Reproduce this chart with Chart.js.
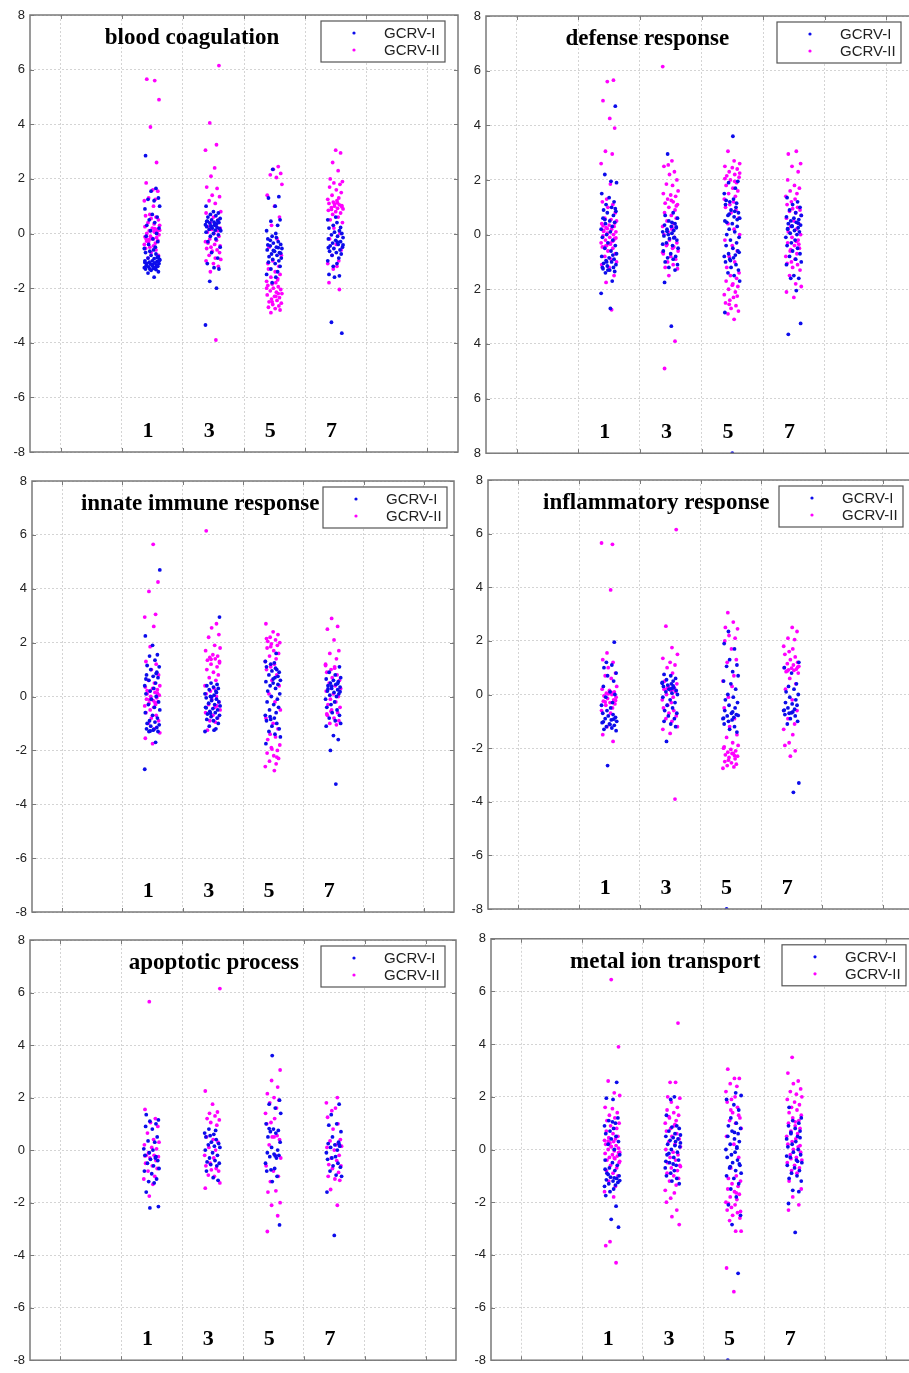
<!DOCTYPE html>
<html>
<head>
    <title>GO term expression</title>
    <meta charset="utf-8">
    <script src="https://cdn.jsdelivr.net/npm/chart.js"></script>
    <style>
        html, body { margin: 0; padding: 0; background: #fff; overflow: hidden; width: 909px; height: 1373px; }
        canvas { position: absolute; }
    </style>
</head>
<body>
    <canvas id="p1"></canvas>
    <canvas id="p2"></canvas>
    <canvas id="p3"></canvas>
    <canvas id="p4"></canvas>
    <canvas id="p5"></canvas>
    <canvas id="p6"></canvas>
    <script>
        // time points (drawn as big labels inside each panel) and where the strips sit
        const CATEGORIES = ['1', '3', '5', '7'];
        const CLUSTER_X = [2, 3, 4, 5];
        const GRID_X = [0.5, 1.5, 2.5, 3.5, 4.5, 5.5, 6.5];
        const SERIES = ['GCRV-I', 'GCRV-II'];
        // horizontal spread of the strips, cycled over the points
        const JITTER = [-0.11, 0.06, -0.02, 0.10, -0.07, 0.03, 0.12, -0.12, 0.00, 0.08, -0.05, 0.04,
                        -0.09, 0.11, -0.03, 0.07, -0.10, 0.01, 0.09, -0.06, 0.05, -0.13, 0.02, -0.04];

        // blood coagulation
        const BLOOD_I = [
            [2.85, 1.65, 1.55, 1.3, 1.25, 1.2, 1.0, 0.9, 0.7, 0.6, 0.5, 0.4, 0.3, 0.2, 0.1, 0.0, -0.1, -0.2, -0.3, -0.4, -0.5, -0.55, -0.6, -0.65, -0.7, -0.75, -0.8, -0.85, -0.9, -0.92, -0.95, -1.0, -1.0, -1.02, -1.05, -1.08, -1.1, -1.1, -1.12, -1.15, -1.18, -1.2, -1.2, -1.22, -1.25, -1.25, -1.28, -1.3, -1.3, -1.32, -1.35, -1.4, -1.45, -1.6, -0.98, -1.06, -1.14, -0.88],
            [1.0, 0.8, 0.75, 0.7, 0.65, 0.6, 0.55, 0.5, 0.48, 0.45, 0.42, 0.4, 0.38, 0.35, 0.32, 0.3, 0.28, 0.25, 0.22, 0.2, 0.18, 0.15, 0.12, 0.1, 0.05, 0.0, -0.05, -0.1, -0.2, -0.3, -0.5, -0.7, -0.9, -1.1, -1.25, -1.3, -1.75, -2.0, -3.35, 0.36, 0.26, 0.44],
            [2.35, 1.35, 1.3, 1.0, 0.5, 0.45, 0.3, 0.1, 0.0, -0.1, -0.2, -0.3, -0.35, -0.4, -0.45, -0.5, -0.55, -0.6, -0.65, -0.7, -0.75, -0.8, -0.85, -0.9, -0.95, -1.0, -1.05, -1.1, -1.2, -1.3, -1.4, -1.5, -1.6, -1.8, -0.42, -0.52, -0.62, -0.72, -0.25, -0.15],
            [0.5, 0.4, 0.3, 0.2, 0.1, 0.05, 0.0, -0.05, -0.1, -0.15, -0.2, -0.25, -0.3, -0.35, -0.4, -0.45, -0.5, -0.55, -0.6, -0.65, -0.7, -0.75, -0.8, -0.9, -1.0, -1.1, -1.2, -1.5, -1.55, -1.6, -3.65, -3.25, -0.32, -0.42, -0.52, 0.6, 0.22]
        ];
        const BLOOD_II = [
            [5.6, 5.65, 4.9, 3.9, 2.6, 1.85, 1.6, 1.55, 1.3, 1.25, 1.2, 1.0, 0.7, 0.65, 0.6, 0.55, 0.5, 0.4, 0.35, 0.3, 0.25, 0.2, 0.15, 0.1, 0.05, 0.0, -0.05, -0.1, -0.15, -0.2, -0.2, -0.25, -0.3, -0.35, -0.4, -0.45, -0.5, -0.55, -0.6, -0.7, -0.8, -0.9, 0.08, 0.12, -0.12, -0.18, 0.02, -0.22, 0.18, -0.28],
            [6.15, 4.05, 3.25, 3.05, 2.4, 2.1, 1.7, 1.65, 1.4, 1.35, 1.2, 1.1, 0.8, 0.75, 0.6, 0.5, 0.4, 0.3, 0.25, 0.2, 0.15, 0.1, 0.05, 0.0, -0.1, -0.2, -0.25, -0.3, -0.4, -0.5, -0.55, -0.6, -0.65, -0.7, -0.8, -0.9, -0.95, -1.0, -1.1, -1.2, -1.4, -3.9, -0.35, -0.45, 0.18],
            [2.45, 2.35, 2.2, 2.15, 2.05, 1.8, 1.4, 1.0, 0.6, 0.3, -0.2, -0.5, -0.8, -1.0, -1.2, -1.3, -1.4, -1.5, -1.6, -1.7, -1.75, -1.8, -1.85, -1.9, -1.95, -2.0, -2.05, -2.1, -2.15, -2.2, -2.25, -2.3, -2.35, -2.4, -2.45, -2.5, -2.55, -2.6, -2.65, -2.7, -2.75, -2.8, -2.9, -1.65, -2.0, -2.3, -2.5, -1.1, -2.2],
            [3.05, 2.95, 2.6, 2.3, 2.0, 1.9, 1.85, 1.8, 1.7, 1.6, 1.5, 1.4, 1.3, 1.25, 1.2, 1.15, 1.1, 1.05, 1.0, 0.98, 0.95, 0.92, 0.9, 0.85, 0.8, 0.75, 0.7, 0.6, 0.5, 0.4, 0.2, 0.0, -0.2, -0.4, -0.6, -0.8, -1.0, -1.1, -1.2, -1.3, -1.8, -2.05, 1.08, 1.02, 0.88, 1.12]
        ];

        // defense response
        const DEFENSE_I = [
            [4.7, 2.2, 1.95, 1.9, 1.5, 1.35, 1.2, 1.1, 1.0, 0.9, 0.85, 0.8, 0.7, 0.6, 0.5, 0.45, 0.4, 0.3, 0.2, 0.1, 0.0, -0.1, -0.2, -0.3, -0.4, -0.5, -0.6, -0.7, -0.8, -0.85, -0.9, -0.95, -1.0, -1.05, -1.1, -1.15, -1.2, -1.25, -1.3, -1.35, -1.4, -1.7, -2.15, -2.7, -1.0, -1.2, -0.75, -1.3, 0.95, 0.55],
            [2.95, 0.8, 0.7, 0.6, 0.5, 0.4, 0.35, 0.3, 0.25, 0.2, 0.15, 0.1, 0.05, 0.0, -0.05, -0.1, -0.15, -0.2, -0.3, -0.4, -0.5, -0.6, -0.7, -0.8, -0.85, -0.9, -1.0, -1.1, -1.2, -1.3, -1.75, -3.35, 0.28, 0.12, -0.12, -0.35, 0.45],
            [3.6, 1.95, 1.9, 1.7, 1.5, 1.3, 1.2, 1.1, 1.0, 0.9, 0.8, 0.7, 0.65, 0.6, 0.5, 0.4, 0.3, 0.2, 0.1, 0.0, -0.1, -0.2, -0.3, -0.4, -0.5, -0.6, -0.7, -0.75, -0.8, -0.85, -0.9, -1.0, -1.1, -1.2, -1.3, -1.4, -1.5, -1.7, -2.85, -8.0, 0.55, 0.75, 0.85, 0.45, -0.65, -0.95, 1.15, 1.25],
            [1.35, 1.2, 1.1, 1.0, 0.9, 0.8, 0.7, 0.65, 0.6, 0.55, 0.5, 0.45, 0.4, 0.35, 0.3, 0.25, 0.2, 0.15, 0.1, 0.05, 0.0, -0.1, -0.2, -0.3, -0.4, -0.5, -0.6, -0.7, -0.8, -0.9, -1.0, -1.1, -1.5, -1.6, -1.6, -2.05, -3.65, -3.25, 0.32, 0.42, 0.22]
        ];
        const DEFENSE_II = [
            [5.6, 5.65, 4.9, 4.25, 3.9, 3.05, 2.95, 2.6, 1.85, 1.3, 1.2, 1.1, 1.0, 0.8, 0.6, 0.55, 0.5, 0.4, 0.35, 0.3, 0.25, 0.2, 0.15, 0.1, 0.05, 0.0, -0.05, -0.1, -0.15, -0.2, -0.25, -0.3, -0.35, -0.4, -0.45, -0.5, -0.6, -0.7, -0.8, -0.9, -1.0, -1.1, -1.2, -1.5, -1.75, -2.75, 0.12, -0.12, 0.22, -0.22, 0.32, -0.32, 0.42, -0.42],
            [6.15, 2.7, 2.55, 2.5, 2.3, 2.2, 2.0, 1.85, 1.8, 1.6, 1.5, 1.45, 1.4, 1.3, 1.2, 1.15, 1.1, 1.0, 0.9, 0.8, 0.7, 0.6, 0.5, 0.4, 0.3, 0.2, 0.1, 0.0, -0.1, -0.2, -0.3, -0.4, -0.5, -0.6, -0.7, -0.8, -0.9, -1.0, -1.1, -1.2, -1.25, -1.5, -3.9, -4.9, 1.25, 1.05, -0.35, -0.45, -0.65, 0.25],
            [3.05, 2.7, 2.6, 2.5, 2.45, 2.4, 2.3, 2.2, 2.15, 2.1, 2.0, 1.9, 1.8, 1.7, 1.6, 1.5, 1.4, 1.3, 1.2, 1.1, 1.0, 0.9, 0.8, 0.6, 0.4, 0.2, 0.0, -0.2, -0.4, -0.6, -0.8, -1.0, -1.2, -1.4, -1.5, -1.6, -1.7, -1.8, -1.9, -2.0, -2.1, -2.2, -2.3, -2.4, -2.5, -2.6, -2.7, -2.8, -2.9, -3.1, 2.25, 2.05, -1.85, -2.25, -2.55, 1.95],
            [3.05, 2.95, 2.6, 2.5, 2.3, 2.0, 1.8, 1.7, 1.6, 1.5, 1.4, 1.3, 1.2, 1.1, 1.0, 0.95, 0.9, 0.85, 0.8, 0.7, 0.6, 0.5, 0.4, 0.3, 0.2, 0.1, 0.0, -0.1, -0.2, -0.3, -0.4, -0.5, -0.6, -0.7, -0.8, -0.9, -1.0, -1.05, -1.1, -1.2, -1.3, -1.5, -1.8, -1.9, -2.1, -2.3, -0.35, -0.55, -0.25]
        ];

        // innate immune response
        const INNATE_I = [
            [4.7, 2.25, 1.9, 1.55, 1.5, 1.35, 1.15, 1.1, 1.0, 0.9, 0.8, 0.75, 0.7, 0.6, 0.5, 0.4, 0.3, 0.2, 0.1, 0.0, -0.1, -0.2, -0.3, -0.4, -0.5, -0.6, -0.7, -0.8, -0.9, -0.95, -1.0, -1.05, -1.1, -1.15, -1.2, -1.25, -1.3, -1.3, -1.7, -2.7, -1.22, -1.28, 0.65, 0.85],
            [2.95, 0.5, 0.45, 0.4, 0.35, 0.3, 0.25, 0.2, 0.1, 0.05, 0.0, -0.05, -0.1, -0.15, -0.2, -0.25, -0.3, -0.35, -0.4, -0.45, -0.5, -0.55, -0.6, -0.65, -0.7, -0.75, -0.8, -0.85, -0.9, -1.0, -1.1, -1.2, -1.3, -1.25, -0.62, -0.42, 0.15, -0.02],
            [1.6, 1.3, 1.25, 1.2, 1.1, 1.0, 0.95, 0.9, 0.8, 0.7, 0.6, 0.55, 0.5, 0.45, 0.4, 0.3, 0.2, 0.1, 0.0, -0.1, -0.2, -0.3, -0.4, -0.5, -0.6, -0.7, -0.8, -0.85, -0.9, -1.0, -1.1, -1.2, -1.3, -1.4, -1.5, -1.75, 0.65, 0.75, -0.75, 1.05],
            [1.1, 0.9, 0.8, 0.7, 0.65, 0.6, 0.55, 0.5, 0.45, 0.4, 0.35, 0.3, 0.25, 0.2, 0.15, 0.1, 0.05, 0.0, -0.1, -0.2, -0.3, -0.4, -0.5, -0.6, -0.7, -0.8, -0.9, -1.0, -1.1, -1.45, -1.6, -2.0, -3.25, 0.28, 0.18, 0.38, 0.48]
        ];
        const INNATE_II = [
            [5.65, 4.25, 3.9, 3.05, 2.95, 2.6, 1.85, 1.3, 1.2, 1.0, 0.8, 0.6, 0.5, 0.4, 0.35, 0.3, 0.25, 0.2, 0.15, 0.1, 0.05, 0.0, -0.05, -0.1, -0.15, -0.2, -0.25, -0.3, -0.35, -0.4, -0.5, -0.6, -0.7, -0.8, -0.9, -1.0, -1.2, -1.35, -1.55, -1.75, 0.12, -0.12, -0.22, 0.22],
            [6.15, 2.7, 2.55, 2.3, 2.2, 1.9, 1.8, 1.7, 1.55, 1.5, 1.45, 1.4, 1.35, 1.3, 1.2, 1.1, 1.0, 0.9, 0.8, 0.7, 0.6, 0.4, 0.3, 0.2, 0.1, 0.0, -0.1, -0.2, -0.3, -0.4, -0.5, -0.6, -0.7, -0.8, -0.9, -0.95, -1.25, 1.25, 1.38, -0.35],
            [2.7, 2.4, 2.3, 2.2, 2.1, 2.05, 2.0, 1.95, 1.9, 1.8, 1.7, 1.6, 1.5, 1.4, 1.3, 1.2, 1.1, 1.0, 0.8, 0.6, 0.4, 0.1, -0.2, -0.5, -0.8, -1.0, -1.2, -1.4, -1.5, -1.6, -1.8, -1.9, -2.0, -2.1, -2.2, -2.3, -2.4, -2.5, -2.6, -2.75, 1.85, 2.15, -2.25, -1.95],
            [2.9, 2.6, 2.5, 2.1, 1.7, 1.6, 1.4, 1.2, 1.1, 1.0, 0.9, 0.8, 0.7, 0.6, 0.5, 0.4, 0.3, 0.2, 0.1, 0.0, -0.1, -0.2, -0.3, -0.4, -0.5, -0.6, -0.7, -0.8, -0.9, -1.0, -1.05, 1.15, 1.05, -0.55, -0.65]
        ];

        // inflammatory response
        const INFLAM_I = [
            [1.95, 1.2, 1.1, 1.0, 0.8, 0.7, 0.5, 0.3, 0.1, 0.0, -0.1, -0.3, -0.4, -0.5, -0.6, -0.7, -0.75, -0.8, -0.85, -0.9, -0.95, -1.0, -1.05, -1.1, -1.15, -1.2, -1.25, -1.3, -1.35, -2.65, -0.92, -1.02, -1.12],
            [0.75, 0.7, 0.6, 0.55, 0.5, 0.45, 0.4, 0.35, 0.3, 0.25, 0.2, 0.15, 0.1, 0.05, 0.0, -0.1, -0.2, -0.3, -0.4, -0.5, -0.6, -0.7, -0.8, -0.9, -1.0, -1.1, -1.2, -1.75, 0.32, 0.42, 0.22],
            [2.35, 1.9, 1.7, 1.3, 1.1, 1.05, 0.85, 0.7, 0.5, 0.4, 0.2, 0.0, -0.1, -0.2, -0.3, -0.4, -0.5, -0.6, -0.7, -0.75, -0.8, -0.85, -0.9, -0.95, -1.0, -1.1, -1.2, -1.3, -1.4, -8.0, -0.65, -0.78, -0.88],
            [1.2, 1.0, 0.8, 0.4, 0.3, 0.2, 0.1, 0.0, -0.1, -0.2, -0.3, -0.35, -0.4, -0.5, -0.55, -0.6, -0.65, -0.7, -0.75, -0.8, -0.9, -1.0, -1.1, -3.65, -3.3, -0.58, -0.68]
        ];
        const INFLAM_II = [
            [5.6, 5.65, 3.9, 1.55, 1.3, 1.2, 1.0, 0.8, 0.7, 0.6, 0.3, 0.2, 0.15, 0.1, 0.05, 0.0, -0.05, -0.1, -0.15, -0.2, -0.25, -0.3, -0.35, -0.4, -0.5, -0.6, -0.7, -1.2, -1.5, -1.75, 0.02, -0.22, -0.28, 0.08],
            [6.15, 2.55, 1.75, 1.5, 1.35, 1.2, 1.1, 1.0, 0.8, 0.5, 0.4, 0.3, 0.25, 0.2, 0.15, 0.1, 0.0, -0.1, -0.2, -0.3, -0.4, -0.5, -0.6, -0.7, -0.8, -0.9, -1.0, -1.2, -1.3, -1.45, -3.9, 0.22, 0.18],
            [3.05, 2.7, 2.5, 2.45, 2.2, 2.1, 2.0, 1.7, 1.3, 1.2, 0.7, 0.5, 0.3, -0.1, -0.5, -0.9, -1.2, -1.5, -1.6, -1.8, -1.9, -2.0, -2.05, -2.1, -2.15, -2.2, -2.25, -2.3, -2.35, -2.4, -2.5, -2.55, -2.6, -2.65, -2.7, -2.75, -2.2, -2.45, -1.95, -2.28],
            [2.5, 2.35, 2.1, 2.05, 1.8, 1.7, 1.6, 1.5, 1.4, 1.3, 1.2, 1.15, 1.1, 1.05, 1.0, 0.98, 0.95, 0.92, 0.9, 0.85, 0.8, 0.6, 0.4, 0.2, -0.2, -0.6, -0.9, -1.1, -1.3, -1.5, -1.8, -1.9, -2.1, -2.3, 1.02, 0.88]
        ];

        // apoptotic process
        const APOP_I = [
            [1.35, 1.15, 1.1, 1.0, 0.9, 0.8, 0.5, 0.35, 0.3, 0.05, 0.0, -0.1, -0.2, -0.3, -0.35, -0.4, -0.5, -0.6, -0.7, -0.8, -0.9, -1.1, -1.2, -1.25, -1.6, -2.15, -2.2, -0.25],
            [0.8, 0.75, 0.65, 0.6, 0.55, 0.5, 0.4, 0.3, 0.25, 0.2, 0.15, 0.1, 0.0, -0.1, -0.2, -0.3, -0.4, -0.45, -0.5, -0.55, -0.6, -0.8, -1.05, -1.15],
            [3.6, 1.9, 1.75, 1.6, 1.4, 1.0, 0.8, 0.75, 0.7, 0.65, 0.5, 0.3, 0.1, 0.0, -0.1, -0.15, -0.2, -0.25, -0.3, -0.5, -0.7, -0.75, -0.8, -1.0, -1.2, -2.85, 0.82, -0.22],
            [1.75, 1.35, 1.0, 0.95, 0.7, 0.5, 0.3, 0.25, 0.2, 0.15, 0.1, 0.0, -0.1, -0.25, -0.3, -0.35, -0.5, -0.6, -0.65, -0.8, -0.95, -1.0, -1.6, -3.25, 0.22]
        ];
        const APOP_II = [
            [5.65, 1.55, 1.2, 1.05, 0.9, 0.65, 0.4, 0.3, 0.2, 0.1, 0.05, -0.1, -0.2, -0.2, -0.25, -0.3, -0.4, -0.5, -0.6, -0.7, -0.8, -1.0, -1.1, -1.3, -1.75, -0.22],
            [6.15, 2.25, 1.75, 1.45, 1.4, 1.3, 1.2, 1.15, 1.05, 0.95, 0.5, 0.4, 0.3, 0.1, 0.0, -0.2, -0.3, -0.5, -0.6, -0.7, -0.75, -0.8, -0.95, -1.0, -1.25, -1.45],
            [3.05, 2.65, 2.4, 2.15, 2.0, 1.9, 1.8, 1.6, 1.4, 1.2, 1.05, 1.0, 0.55, 0.5, 0.4, 0.2, -0.2, -0.3, -0.6, -0.8, -1.0, -1.2, -1.55, -1.6, -2.0, -2.1, -2.5, -3.1, 0.5],
            [2.0, 1.8, 1.6, 1.5, 1.25, 1.0, 0.8, 0.4, 0.35, 0.2, 0.15, 0.1, 0.0, -0.2, -0.3, -0.4, -0.55, -0.6, -0.7, -0.85, -1.0, -1.1, -1.15, -1.5, -2.1]
        ];

        // metal ion transport
        const METAL_I = [
            [2.55, 1.95, 1.9, 1.2, 1.1, 1.0, 0.9, 0.8, 0.7, 0.6, 0.5, 0.4, 0.3, 0.2, 0.0, -0.2, -0.4, -0.5, -0.6, -0.7, -0.8, -0.9, -1.0, -1.05, -1.1, -1.15, -1.2, -1.25, -1.3, -1.35, -1.4, -1.5, -1.6, -1.75, -2.15, -2.65, -2.95, -0.95, -1.08, -1.18, -0.75, 1.05],
            [2.0, 1.9, 1.3, 0.9, 0.85, 0.8, 0.7, 0.6, 0.55, 0.5, 0.45, 0.4, 0.35, 0.3, 0.2, 0.1, 0.0, -0.1, -0.2, -0.3, -0.4, -0.5, -0.6, -0.7, -0.8, -0.9, -1.0, -1.1, -1.2, -1.3, -0.15, 0.15, 0.25, -0.45, -0.55],
            [2.15, 2.05, 1.9, 1.7, 1.5, 1.2, 1.0, 0.9, 0.8, 0.7, 0.6, 0.5, 0.4, 0.3, 0.2, 0.1, 0.0, -0.1, -0.2, -0.3, -0.4, -0.5, -0.6, -0.7, -0.8, -0.9, -1.0, -1.1, -1.3, -1.5, -1.8, -2.1, -2.5, -2.85, -4.7, -8.0, 0.65, -0.55, -0.65, 0.05],
            [1.6, 1.2, 1.1, 1.0, 0.9, 0.8, 0.7, 0.6, 0.5, 0.4, 0.3, 0.2, 0.1, 0.0, -0.1, -0.2, -0.3, -0.4, -0.5, -0.6, -0.7, -0.8, -0.9, -1.0, -1.1, -1.2, -1.55, -1.6, -2.05, -3.15, 0.45, 0.65, -0.45, -0.25]
        ];
        const METAL_II = [
            [6.45, 3.9, 2.6, 2.15, 2.05, 1.6, 1.55, 1.4, 1.3, 1.2, 1.1, 1.0, 0.9, 0.8, 0.7, 0.6, 0.5, 0.45, 0.4, 0.35, 0.3, 0.25, 0.2, 0.15, 0.1, 0.05, 0.0, -0.05, -0.1, -0.15, -0.2, -0.25, -0.3, -0.35, -0.4, -0.5, -0.6, -0.7, -0.8, -0.9, -1.0, -1.2, -1.4, -1.6, -1.8, -3.5, -3.65, -4.3, 0.12, -0.12, 0.32, -0.32, -0.45],
            [4.8, 2.55, 2.55, 2.0, 1.95, 1.8, 1.6, 1.5, 1.4, 1.3, 1.2, 1.1, 1.0, 0.9, 0.8, 0.7, 0.6, 0.5, 0.4, 0.3, 0.2, 0.1, 0.0, -0.1, -0.2, -0.3, -0.4, -0.5, -0.6, -0.7, -0.8, -0.9, -1.0, -1.1, -1.2, -1.35, -1.55, -1.65, -1.85, -2.0, -2.3, -2.55, -2.85, 1.25, 0.95, -0.65],
            [3.05, 2.7, 2.7, 2.5, 2.4, 2.2, 2.0, 1.9, 1.8, 1.6, 1.4, 1.2, 1.1, 1.0, 0.8, 0.5, 0.2, -0.3, -0.7, -1.0, -1.1, -1.2, -1.3, -1.4, -1.5, -1.6, -1.7, -1.8, -1.9, -2.0, -2.1, -2.2, -2.3, -2.4, -2.5, -2.6, -2.7, -3.1, -3.1, -4.5, -5.4, 1.3, 1.5, -1.65, -2.05, -2.35],
            [3.5, 2.9, 2.6, 2.5, 2.3, 2.2, 2.1, 2.0, 1.9, 1.8, 1.7, 1.6, 1.5, 1.4, 1.3, 1.2, 1.1, 1.0, 0.9, 0.8, 0.7, 0.6, 0.5, 0.4, 0.3, 0.2, 0.1, 0.0, -0.1, -0.2, -0.3, -0.4, -0.5, -0.6, -0.7, -0.8, -0.9, -1.2, -1.5, -1.8, -2.1, -2.3, 1.05, 0.15, -0.35]
        ];

        const COLORS = ['rgb(12,12,235)', 'rgb(255,0,255)'];
        const FRAME = '#7a7a7a';

        // page placement of each panel: canvas box and chart area padding
        const panels = [
            { id: 'p1', title: 'blood coagulation', titleX: 2.65, a: BLOOD_I, b: BLOOD_II,
              left: 0, top: 0, w: 460, h: 466, axisW: 30, pad: { top: 15, right: 2, bottom: 14 } },
            { id: 'p2', title: 'defense response', titleX: 2.62, a: DEFENSE_I, b: DEFENSE_II, dropMinus: true,
              left: 455, top: 0, w: 470, h: 466, axisW: 31, pad: { top: 16, right: 8, bottom: 10 } },
            { id: 'p3', title: 'innate immune response', titleX: 2.79, a: INNATE_I, b: INNATE_II,
              left: 0, top: 466, w: 460, h: 460, axisW: 32, pad: { top: 15, right: 6, bottom: 14 } },
            { id: 'p4', title: 'inflammatory response', titleX: 2.77, a: INFLAM_I, b: INFLAM_II,
              left: 455, top: 466, w: 470, h: 460, axisW: 33, pad: { top: 14, right: 12, bottom: 17 } },
            { id: 'p5', title: 'apoptotic process', titleX: 3.02, a: APOP_I, b: APOP_II,
              left: 0, top: 926, w: 460, h: 447, axisW: 30, pad: { top: 14, right: 4, bottom: 5 } },
            { id: 'p6', title: 'metal ion transport', titleX: 2.87, a: METAL_I, b: METAL_II,
              left: 455, top: 926, w: 470, h: 447, axisW: 36, pad: { top: 11, right: 9, bottom: 6 } }
        ];

        function strips(groups, shift) {
            const pts = [];
            groups.forEach((vals, c) => {
                vals.forEach((y, i) => {
                    pts.push({ x: CLUSTER_X[c] + JITTER[(i + c * 7 + shift) % JITTER.length], y: y });
                });
            });
            return pts;
        }

        const decorPlugin = {
            id: 'decor',
            afterDraw(chart) {
                const ctx = chart.ctx;
                const area = chart.chartArea;
                const xs = chart.scales.x, ys = chart.scales.y;
                const p = chart.options.plugins.decor;
                ctx.save();

                // box with inward ticks
                ctx.strokeStyle = FRAME;
                ctx.lineWidth = 1.5;
                ctx.strokeRect(area.left, area.top, area.right - area.left, area.bottom - area.top);
                ctx.lineWidth = 1;
                ctx.beginPath();
                GRID_X.forEach(v => {
                    const px = Math.round(xs.getPixelForValue(v)) + 0.5;
                    ctx.moveTo(px, area.top); ctx.lineTo(px, area.top + 4);
                    ctx.moveTo(px, area.bottom); ctx.lineTo(px, area.bottom - 4);
                });
                ys.ticks.forEach(t => {
                    const py = Math.round(ys.getPixelForValue(t.value)) + 0.5;
                    ctx.moveTo(area.left, py); ctx.lineTo(area.left + 4, py);
                    ctx.moveTo(area.right, py); ctx.lineTo(area.right - 4, py);
                });
                ctx.stroke();

                // title and time point labels
                ctx.fillStyle = '#000';
                ctx.font = 'bold 23px "Liberation Serif", "Times New Roman", serif';
                ctx.textAlign = 'center';
                ctx.textBaseline = 'alphabetic';
                ctx.fillText(p.title, xs.getPixelForValue(p.titleX), area.top + 29);
                ctx.font = 'bold 22px "Liberation Serif", "Times New Roman", serif';
                CATEGORIES.forEach((lab, c) => {
                    ctx.fillText(lab, xs.getPixelForValue(CLUSTER_X[c] - 0.07), area.bottom - 15);
                });

                // legend box
                const bx = area.left + 291, by = area.top + 6;
                ctx.fillStyle = '#fff';
                ctx.fillRect(bx, by, 124, 41);
                ctx.strokeStyle = '#555';
                ctx.lineWidth = 1.2;
                ctx.strokeRect(bx, by, 124, 41);
                ctx.font = '15px "Liberation Sans", Arial, sans-serif';
                ctx.textAlign = 'left';
                ctx.textBaseline = 'middle';
                SERIES.forEach((name, s) => {
                    const ry = by + 12 + s * 17;
                    ctx.fillStyle = COLORS[s];
                    ctx.beginPath();
                    ctx.arc(bx + 33, ry, 1.6, 0, Math.PI * 2);
                    ctx.fill();
                    ctx.fillStyle = '#222';
                    ctx.fillText(name, bx + 63, ry + 1);
                });
                ctx.restore();
            }
        };

        panels.forEach((p, k) => {
            const cv = document.getElementById(p.id);
            cv.width = p.w; cv.height = p.h;
            cv.style.left = p.left + 'px'; cv.style.top = p.top + 'px';
            cv.style.width = p.w + 'px'; cv.style.height = p.h + 'px';

            new Chart(cv.getContext('2d'), {
                type: 'scatter',
                data: {
                    datasets: [
                        { label: SERIES[0], data: strips(p.a, k * 3), backgroundColor: COLORS[0],
                          pointRadius: 1.9, pointBorderWidth: 0, pointHoverRadius: 1.9 },
                        { label: SERIES[1], data: strips(p.b, k * 3 + 11), backgroundColor: COLORS[1],
                          pointRadius: 1.9, pointBorderWidth: 0, pointHoverRadius: 1.9 }
                    ]
                },
                options: {
                    responsive: false,
                    animation: false,
                    events: [],
                    layout: { padding: { left: 0, top: p.pad.top, right: p.pad.right, bottom: p.pad.bottom } },
                    scales: {
                        x: {
                            type: 'linear', min: 0, max: 7,
                            afterBuildTicks: axis => { axis.ticks = GRID_X.map(v => ({ value: v })); },
                            afterFit: axis => { axis.height = 0; },
                            ticks: { display: false },
                            grid: { color: '#d4d4d4', lineWidth: 1, drawTicks: false },
                            border: { display: false, dash: [2, 2] }
                        },
                        y: {
                            min: -8, max: 8,
                            afterFit: axis => { axis.width = p.axisW; },
                            ticks: {
                                stepSize: 2, padding: 5, color: '#222',
                                font: { family: '"Liberation Sans", Arial, sans-serif', size: 13 },
                                callback: v => p.dropMinus ? String(Math.abs(v)) : String(v)
                            },
                            grid: { color: '#d4d4d4', lineWidth: 1, drawTicks: false },
                            border: { display: false, dash: [2, 2] }
                        }
                    },
                    plugins: {
                        legend: { display: false },
                        tooltip: { enabled: false },
                        decor: { title: p.title, titleX: p.titleX }
                    }
                },
                plugins: [decorPlugin]
            });
        });
    </script>
</body>
</html>
